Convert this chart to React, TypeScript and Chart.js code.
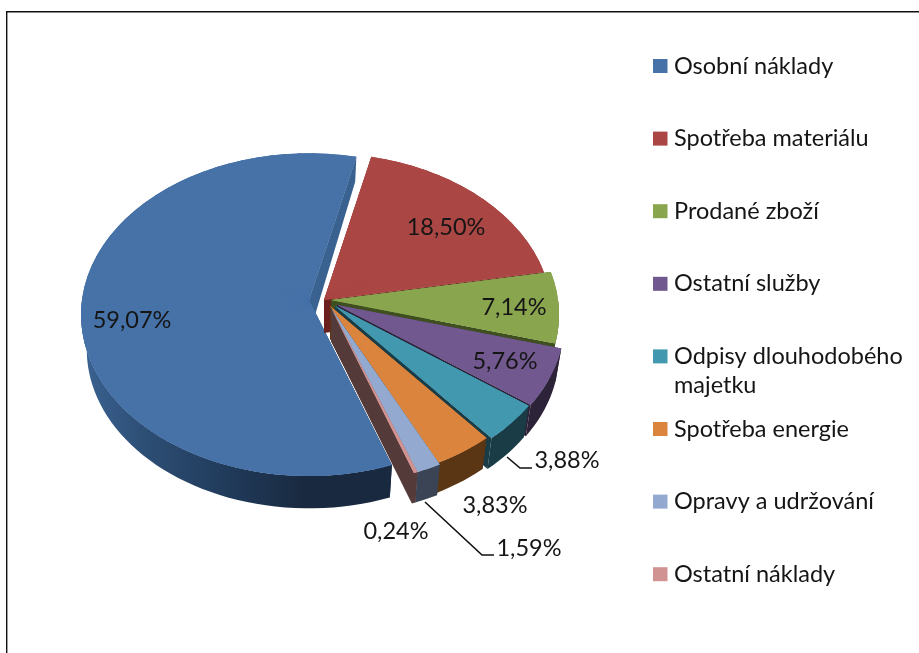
import React, { useEffect, useRef } from "react";
import { Chart, registerables } from "chart.js";

Chart.register(...registerables);

const categories = [
  "Osobní náklady",
  "Spotřeba materiálu",
  "Prodané zboží",
  "Ostatní služby",
  "Odpisy dlouhodobého majetku",
  "Spotřeba energie",
  "Opravy a udržování",
  "Ostatní náklady",
];
const shares = [59.07, 18.5, 7.14, 5.76, 3.88, 3.83, 1.59, 0.24];
const topColors = ["#4672A8", "#AA4643", "#89A54E", "#71588F", "#4198AF", "#DB843D", "#93A9CF", "#D19392"];
const wallColors = ["#233B5A", "#6B2A28", "#3F4F20", "#2D2338", "#193C46", "#5A3614", "#3B4455", "#553A3A"];
const startSideColors = ["#192A40", "#6B2020", "#3F4F20", "#2D2338", "#193C46", "#5A3614", "#3B4455", "#553A3A"];
const endSideColors = ["#3A6291", "#6B2020", "#3F4F20", "#2D2338", "#193C46", "#5A3614", "#3B4455", "#553A3A"];

// Where each exploded slice's rim centre sits in the 3D view.
const sliceCentres: [number, number][] = [
  [309, 300], [324, 300], [331, 300], [337, 305], [335, 306], [330, 306], [331, 308], [331, 308],
];
const labelSpots: [number, number][] = [
  [132, 320], [446, 227], [514, 307], [505, 361], [567, 460], [495, 505], [529, 548], [396, 531],
];
const leaders: Record<number, [number, number][]> = {
  4: [[507, 457], [520, 468], [532, 468]],
  6: [[425, 502], [482, 555], [494, 555]],
};

const RX = 227, RY = 160, K = 0.091;
const DEPTH = [35, 33, 33, 33, 33, 33, 33, 33];
const SX = 0.975, SY_NEAR = 0.985, SY_FAR = 1.07;
const FONT = '23.5px Lato, "Noto Sans", sans-serif';

const fmt = (v: number) => v.toFixed(2).replace(".", ",") + "%";

function rim(theta: number, c: [number, number]): [number, number] {
  const u = Math.sin(theta), v = -Math.cos(theta), w = 1 - K * v;
  return [c[0] + (RX * u) / w, c[1] + (RY * v) / w];
}
function floor(p: [number, number], c: [number, number], d: number): [number, number] {
  const sy = p[1] < c[1] ? SY_FAR : SY_NEAR;
  return [c[0] + SX * (p[0] - c[0]), c[1] + d + sy * (p[1] - c[1])];
}
function poly(ctx: CanvasRenderingContext2D, pts: [number, number][], fill: string | CanvasGradient) {
  ctx.beginPath();
  pts.forEach((p, i) => (i ? ctx.lineTo(p[0], p[1]) : ctx.moveTo(p[0], p[1])));
  ctx.closePath();
  ctx.fillStyle = fill;
  ctx.fill();
}

function drawSlice(ctx: CanvasRenderingContext2D, arc: any, i: number) {
  const a0 = arc.startAngle, a1 = arc.endAngle;
  const t0 = a0 + Math.PI / 2, t1 = a1 + Math.PI / 2;
  const c = sliceCentres[i], d = DEPTH[i];
  const cb = floor(c, c, d);

  // outer wall (only its near half can show)
  const steps = Math.max(2, Math.ceil((t1 - t0) / 0.04));
  const upper: [number, number][] = [];
  for (let s = 0; s <= steps; s++) upper.push(rim(t0 + ((t1 - t0) * s) / steps, c));
  const nearUpper = upper.filter((p) => p[1] > c[1] - 4);
  const lower = nearUpper.map((p) => floor(p, c, d)).reverse();
  let wall: string | CanvasGradient = wallColors[i];
  if (i === 0) {
    const g = ctx.createLinearGradient(82, 0, 390, 0);
    g.addColorStop(0, "#3A6291");
    g.addColorStop(0.22, "#2C4D73");
    g.addColorStop(0.48, "#203A5A");
    g.addColorStop(0.72, "#192A40");
    g.addColorStop(1, "#192A40");
    wall = g;
  }
  if (nearUpper.length > 1) poly(ctx, [...nearUpper, ...lower], wall);

  // radial side walls
  const p0 = rim(t0, c), p1 = rim(t1, c);
  poly(ctx, [c, p0, floor(p0, c, d), cb], startSideColors[i]);
  poly(ctx, [c, p1, floor(p1, c, d), cb], endSideColors[i]);

  // solid base so no seam shows between the wedges near the apex
  poly(ctx, [c, ...upper], topColors[i]);

  // top face: the library's own arc, drawn wedge by wedge through the 3D view
  const n = Math.max(1, Math.ceil((a1 - a0) / 0.07));
  const { x: ex, y: ey, outerRadius: R } = arc;
  const overlap = 0.012;
  for (let w = 0; w < n; w++) {
    const b0 = a0 + ((a1 - a0) * w) / n, b1 = a0 + ((a1 - a0) * (w + 1)) / n;
    const sx1 = R * Math.cos(b0), sy1 = R * Math.sin(b0);
    const sx2 = R * Math.cos(b1), sy2 = R * Math.sin(b1);
    const d1 = rim(b0 + Math.PI / 2, c), d2 = rim(b1 + Math.PI / 2, c);
    const ax = d1[0] - c[0], ay = d1[1] - c[1], bx = d2[0] - c[0], by = d2[1] - c[1];
    const det = sx1 * sy2 - sx2 * sy1;
    const m11 = (ax * sy2 - bx * sy1) / det, m12 = (bx * sx1 - ax * sx2) / det;
    const m21 = (ay * sy2 - by * sy1) / det, m22 = (by * sx1 - ay * sx2) / det;
    ctx.save();
    ctx.translate(c[0], c[1]);
    ctx.transform(m11, m21, m12, m22, 0, 0);
    ctx.translate(-ex, -ey);
    arc.startAngle = w === 0 ? b0 : b0 - overlap;
    arc.endAngle = w === n - 1 ? b1 : b1 + overlap;
    arc.draw(ctx);
    ctx.restore();
  }
  arc.startAngle = a0;
  arc.endAngle = a1;
}

const view3d = {
  id: "view3d",
  beforeDraw(chart: any) {
    const ctx: CanvasRenderingContext2D = chart.ctx;
    ctx.save();
    ctx.fillStyle = "#FFFFFF";
    ctx.fillRect(0, 0, chart.width, chart.height);
    ctx.strokeStyle = "#111111";
    ctx.lineWidth = 1.4;
    ctx.beginPath();
    ctx.moveTo(6.7, chart.height);
    ctx.lineTo(6.7, 11.7);
    ctx.lineTo(chart.width, 11.7);
    ctx.stroke();
    ctx.restore();
  },
  beforeDatasetDraw(chart: any) {
    const ctx: CanvasRenderingContext2D = chart.ctx;
    const arcs = chart.getDatasetMeta(0).data;
    arcs.forEach((arc: any, i: number) => drawSlice(ctx, arc, i));
    return false;
  },
  afterDatasetsDraw(chart: any) {
    const ctx: CanvasRenderingContext2D = chart.ctx;
    ctx.save();
    ctx.font = FONT;
    ctx.fillStyle = "#151515";
    ctx.textAlign = "center";
    ctx.textBaseline = "middle";
    const values: number[] = chart.data.datasets[0].data;
    values.forEach((v, i) => {
      const [x, y] = labelSpots[i];
      ctx.fillText(fmt(v), x, y);
    });
    ctx.strokeStyle = "#111111";
    ctx.lineWidth = 1.6;
    Object.values(leaders).forEach((pts) => {
      ctx.beginPath();
      pts.forEach((p, i) => (i ? ctx.lineTo(p[0], p[1]) : ctx.moveTo(p[0], p[1])));
      ctx.stroke();
    });

    // legend
    ctx.textAlign = "left";
    const labels: string[] = chart.data.labels;
    labels.forEach((label, i) => {
      const y = 66 + 72.6 * i;
      ctx.fillStyle = topColors[i];
      ctx.fillRect(653, y - 7, 14.5, 14);
      ctx.fillStyle = "#151515";
      const words = label.split(" ");
      let line = "";
      let ly = y;
      words.forEach((w) => {
        const next = line ? line + " " + w : w;
        if (ctx.measureText(next).width > 240 && line) {
          ctx.fillText(line, 674, ly);
          line = w;
          ly += 29;
        } else line = next;
      });
      ctx.fillText(line, 674, ly);
    });
    ctx.restore();
  },
};

export default function App() {
  const ref = useRef<HTMLCanvasElement>(null);
  useEffect(() => {
    const chart = new Chart(ref.current!, {
      type: "pie",
      data: {
        labels: categories,
        datasets: [{ data: shares, backgroundColor: topColors, borderWidth: 0 }],
      },
      options: {
        animation: false,
        responsive: false,
        rotation: 160.5,
        plugins: { legend: { display: false }, tooltip: { enabled: false } },
      },
      plugins: [view3d],
    } as any);
    return () => chart.destroy();
  }, []);
  return (
    <div style={{ position: "absolute", left: 0, top: 0, width: 919, height: 653 }}>
      <canvas ref={ref} width={919} height={653} style={{ display: "block", filter: "blur(0.4px)" }} />
    </div>
  );
}
